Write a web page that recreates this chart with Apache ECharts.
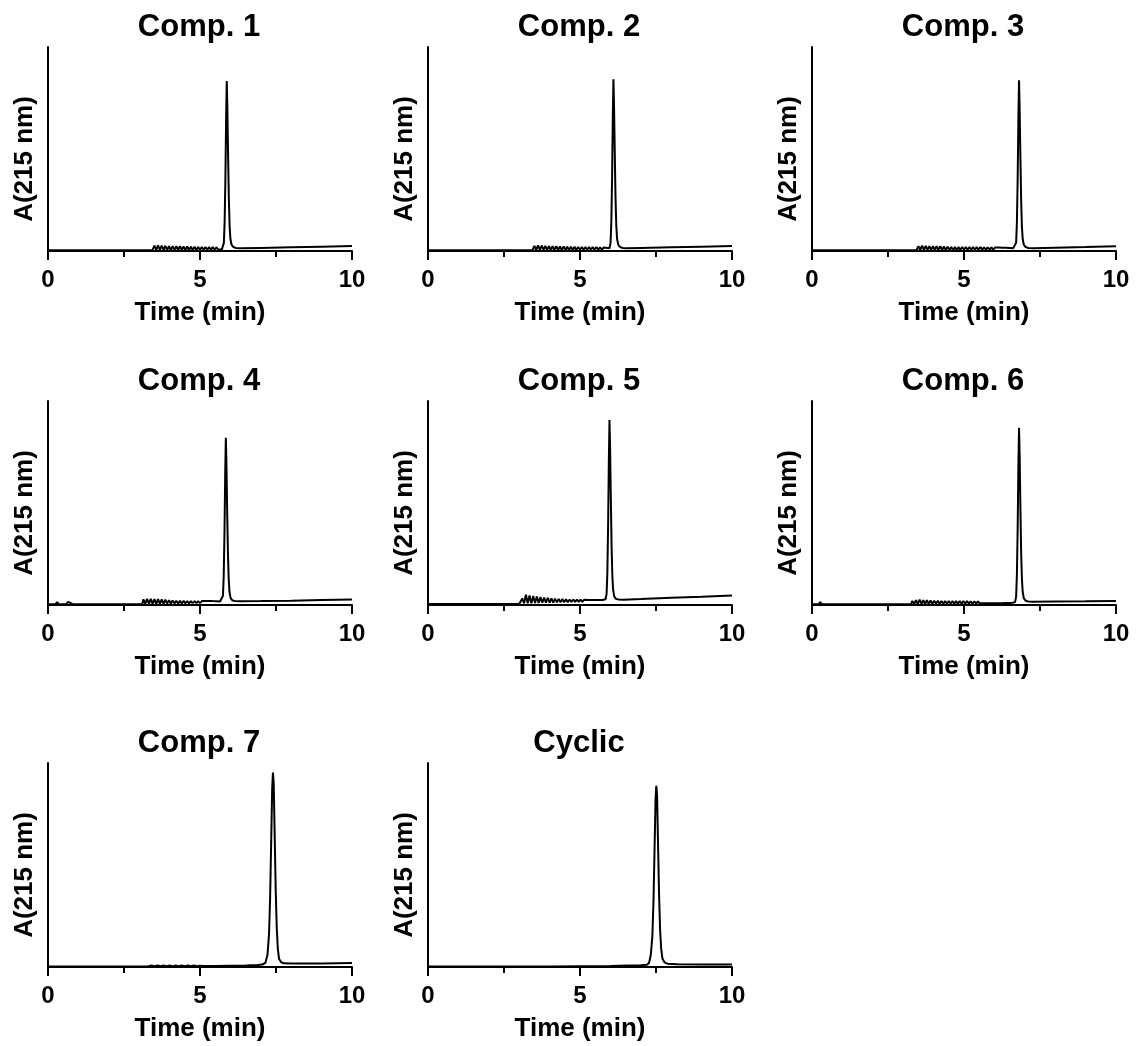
<!DOCTYPE html>
<html>
<head>
<meta charset="utf-8">
<title>HPLC chromatograms</title>
<script src="https://cdn.jsdelivr.net/npm/echarts@6/dist/echarts.min.js"></script>
<style>
  html, body { margin: 0; padding: 0; background: #fff; }
  #chart { width: 1136px; height: 1046px; }
</style>
</head>
<body>
<div id="chart"></div>
<script>
// Panel titles, in reading order
const titles = ['Comp. 1', 'Comp. 2', 'Comp. 3', 'Comp. 4', 'Comp. 5', 'Comp. 6', 'Comp. 7', 'Cyclic'];

// x-axis ticks (min)
const timeTicks = [0, 5, 10];

// Chromatogram traces: [time (min), absorbance at 215 nm (arbitrary units, 0–100)]
const comp1 = [
  [0,0.4],[1,0.4],[2,0.4],[3,0.4],[3.44,0.5],
  [3.50,2.6],[3.56,0.5],[3.62,2.8],[3.68,0.5],[3.74,2.6],[3.80,0.5],[3.86,2.5],[3.92,0.5],[3.98,2.4],[4.04,0.5],
  [4.10,2.4],[4.16,0.5],[4.22,2.3],[4.28,0.5],[4.34,2.3],[4.40,0.5],[4.46,2.2],[4.52,0.5],[4.58,2.2],[4.64,0.5],
  [4.70,2.1],[4.76,0.5],[4.82,2.1],[4.88,0.5],[4.94,2.0],[5.00,0.6],[5.06,2.0],[5.12,0.6],[5.18,2.0],[5.24,0.6],
  [5.30,1.9],[5.36,0.6],[5.42,1.9],[5.48,0.6],[5.54,1.8],[5.60,0.7],[5.66,1.6],[5.72,0.8],
  [5.75,1.2],[5.785,4],[5.81,14],[5.835,35],[5.86,66],[5.88,83.3],[5.90,70],[5.925,46],[5.95,25],[5.975,12],
  [6.00,6],[6.035,3.2],[6.09,2.0],[6.18,1.5],[6.33,1.3],[7,1.5],[8,1.8],[9,2.1],[10,2.4]
];
const comp2 = [
  [0,0.4],[1,0.4],[2,0.4],[3,0.4],[3.44,0.5],
  [3.50,2.5],[3.56,0.5],[3.62,2.7],[3.68,0.5],[3.74,2.6],[3.80,0.5],[3.86,2.5],[3.92,0.5],[3.98,2.4],[4.04,0.5],
  [4.10,2.3],[4.16,0.5],[4.22,2.3],[4.28,0.5],[4.34,2.2],[4.40,0.5],[4.46,2.2],[4.52,0.5],[4.58,2.1],[4.64,0.5],
  [4.70,2.1],[4.76,0.5],[4.82,2.1],[4.88,0.5],[4.94,2.0],[5.00,0.6],[5.06,2.0],[5.12,0.6],[5.18,2.0],[5.24,0.6],
  [5.30,2.0],[5.36,0.6],[5.42,1.9],[5.48,0.7],[5.54,1.9],[5.60,0.7],[5.66,1.8],[5.72,0.7],[5.78,1.7],[5.84,0.8],
  [5.90,1.5],[5.94,1.0],
  [5.97,1.3],[6.005,4],[6.03,14],[6.055,35],[6.08,67],[6.10,84.2],[6.12,71],[6.145,47],[6.17,25],[6.195,12],
  [6.22,6],[6.255,3.2],[6.31,2.0],[6.40,1.5],[6.55,1.3],[7,1.5],[8,1.8],[9,2.1],[10,2.4]
];
const comp3 = [
  [0,0.4],[1,0.4],[2,0.4],[3,0.4],[3.44,0.5],
  [3.50,2.4],[3.56,0.5],[3.62,2.6],[3.68,0.5],[3.74,2.5],[3.80,0.5],[3.86,2.4],[3.92,0.5],[3.98,2.4],[4.04,0.5],
  [4.10,2.3],[4.16,0.5],[4.22,2.3],[4.28,0.5],[4.34,2.2],[4.40,0.5],[4.46,2.1],[4.52,0.5],[4.58,2.0],[4.64,0.5],
  [4.70,1.9],[4.76,0.5],[4.82,1.9],[4.88,0.5],[4.94,2.0],[5.00,0.6],[5.06,2.0],[5.12,0.6],[5.18,2.0],[5.24,0.6],
  [5.30,1.9],[5.36,0.6],[5.42,1.9],[5.48,0.6],[5.54,1.9],[5.60,0.7],[5.66,1.8],[5.72,0.7],[5.78,1.8],[5.84,0.7],
  [5.90,1.8],[5.96,0.7],[6.02,1.7],[6.08,0.8],[6.14,1.7],[6.20,0.8],[6.26,1.6],[6.32,0.8],[6.38,1.6],[6.44,0.9],
  [6.50,1.5],[6.56,0.9],[6.62,1.4],
  [6.68,1.3],[6.715,4],[6.74,14],[6.765,35],[6.79,66],[6.81,83.7],[6.83,70],[6.855,46],[6.88,25],[6.905,12],
  [6.93,6],[6.965,3.2],[7.02,2.0],[7.11,1.5],[7.26,1.3],[8,1.6],[9,1.9],[10,2.3]
];
const comp4 = [
  [0,0.4],[0.25,0.4],[0.30,1.4],[0.35,0.4],[0.60,0.4],[0.66,1.5],[0.72,1.0],[0.80,0.5],[1,0.4],[2,0.4],[3,0.4],[3.10,0.5],
  [3.14,2.8],[3.20,0.6],[3.26,3.0],[3.32,0.6],[3.38,3.0],[3.44,0.6],[3.50,2.9],[3.56,0.6],[3.62,2.9],[3.68,0.6],
  [3.74,2.8],[3.80,0.6],[3.86,2.6],[3.92,0.7],[3.98,2.4],[4.04,0.7],[4.10,2.2],[4.16,0.7],[4.22,2.1],[4.28,0.7],
  [4.34,2.0],[4.40,0.8],[4.46,2.0],[4.52,0.8],[4.58,1.9],[4.64,0.8],[4.70,1.9],[4.76,0.9],[4.82,1.9],[4.88,0.9],
  [4.94,1.9],[5.00,0.9],[5.06,1.9],[5.12,1.0],[5.18,1.9],[5.24,1.0],[5.30,1.9],[5.36,1.1],[5.42,1.9],[5.48,1.2],
  [5.54,1.8],[5.60,1.3],[5.66,1.7],
  [5.72,1.8],[5.755,4.5],[5.78,14],[5.805,35],[5.83,65],[5.85,82],[5.87,69],[5.895,45],[5.92,25],[5.945,12.5],
  [5.97,6.5],[6.005,3.5],[6.06,2.3],[6.15,1.9],[6.30,1.8],[7,1.9],[8,2.1],[9,2.4],[10,2.7]
];
const comp5 = [
  [0,0.5],[1,0.5],[2,0.5],[3,0.5],[3.06,0.6],
  [3.10,3.2],[3.16,0.8],[3.22,5.0],[3.28,0.9],[3.34,4.7],[3.40,0.9],[3.46,4.4],[3.52,1.0],[3.58,4.1],[3.64,1.0],
  [3.70,3.9],[3.76,1.1],[3.82,3.7],[3.88,1.1],[3.94,3.5],[4.00,1.2],[4.06,3.3],[4.12,1.2],[4.18,3.1],[4.24,1.3],
  [4.30,3.0],[4.36,1.3],[4.42,2.9],[4.48,1.4],[4.54,2.8],[4.60,1.4],[4.66,2.7],[4.72,1.5],[4.78,2.7],[4.84,1.5],
  [4.90,2.6],[4.96,1.6],[5.02,2.6],[5.08,1.6],[5.14,2.6],[5.20,1.7],[5.26,2.5],[5.32,1.8],[5.38,2.5],[5.44,1.9],
  [5.50,2.5],[5.56,1.9],[5.62,2.5],[5.68,2.0],[5.74,2.5],[5.80,2.2],
  [5.84,2.8],[5.875,5.5],[5.90,16],[5.925,39],[5.95,72],[5.97,90.7],[5.99,77],[6.015,51],[6.04,28],[6.065,14],
  [6.09,7.5],[6.125,4.2],[6.18,3.0],[6.27,2.7],[6.42,2.6],[7,2.9],[8,3.5],[9,4.0],[10,4.6]
];
const comp6 = [
  [0,0.4],[0.22,0.4],[0.27,1.5],[0.32,0.5],[0.50,0.4],[1,0.4],[2,0.4],[3,0.4],[3.26,0.5],
  [3.30,2.0],[3.36,0.5],[3.42,2.4],[3.48,0.5],[3.54,2.6],[3.60,0.5],[3.66,2.4],[3.72,0.5],[3.78,2.3],[3.84,0.6],
  [3.90,2.2],[3.96,0.6],[4.02,2.1],[4.08,0.6],[4.14,2.1],[4.20,0.6],[4.26,2.0],[4.32,0.6],[4.38,2.0],[4.44,0.6],
  [4.50,2.0],[4.56,0.6],[4.62,1.9],[4.68,0.6],[4.74,1.9],[4.80,0.6],[4.86,1.9],[4.92,0.7],[4.98,1.9],[5.04,0.7],
  [5.10,1.9],[5.16,0.7],[5.22,1.8],[5.28,0.7],[5.34,1.8],[5.40,0.7],[5.46,1.8],[5.52,0.8],[5.58,1.7],[5.64,0.8],
  [5.70,1.7],[5.76,0.8],[5.82,1.7],[5.88,0.8],[5.94,1.6],[6.00,0.9],[6.06,1.6],[6.12,0.9],[6.18,1.6],[6.24,0.9],
  [6.30,1.5],[6.36,1.0],[6.42,1.5],[6.48,1.0],[6.54,1.4],[6.60,1.1],
  [6.68,1.4],[6.715,4.2],[6.74,15],[6.765,37],[6.79,69],[6.81,86.9],[6.83,74],[6.855,48],[6.88,26],[6.905,13],
  [6.93,6.5],[6.965,3.4],[7.02,2.2],[7.11,1.7],[7.26,1.6],[8,1.7],[9,1.8],[10,2.0]
];
const comp7 = [
  [0,0.3],[1,0.3],[2,0.3],[3,0.3],[3.3,0.4],[3.4,0.7],[3.5,0.4],[3.6,0.7],[3.7,0.4],[3.8,0.7],[3.9,0.4],[4.0,0.7],
  [4.1,0.4],[4.2,0.7],[4.3,0.4],[4.4,0.7],[4.5,0.4],[4.6,0.7],[4.7,0.4],[4.8,0.7],[4.9,0.4],[5.0,0.6],[5.1,0.5],
  [5.5,0.5],[6.0,0.6],[6.5,0.7],[6.9,1.0],[7.05,1.2],
  [7.15,2.0],[7.22,6],[7.27,16],[7.305,33],[7.34,60],[7.375,88],[7.40,95.3],[7.425,90],[7.455,66],[7.49,38],
  [7.525,19],[7.56,9],[7.60,4],[7.67,2.3],[7.77,1.8],[8,1.7],[9,1.7],[10,1.9]
];
const cyclic = [
  [0,0.3],[1,0.3],[2,0.3],[3,0.3],[4,0.3],[5,0.4],[6,0.5],[6.6,0.7],[7.0,0.8],[7.2,1.1],
  [7.27,2.0],[7.33,6],[7.38,15],[7.415,31],[7.45,56],[7.485,82],[7.51,88.8],[7.535,84],[7.565,62],[7.60,36],
  [7.635,18],[7.67,9],[7.71,4.2],[7.78,2.3],[7.87,1.6],[8.2,1.3],[9,1.2],[10,1.2]
];

const traces = [comp1, comp2, comp3, comp4, comp5, comp6, comp7, cyclic];

// Panel layout (3 x 3 grid, last cell empty)
const colLeft = [48, 428, 812];
const rowTop = [47, 401, 763];
const plotW = 304;
const plotH = 204;

const FONT = '"Liberation Sans", Arial, Helvetica, sans-serif';

const grids = [], xAxes = [], yAxes = [], series = [], titleList = [];

traces.forEach((data, i) => {
  const left = colLeft[i % 3];
  const top = rowTop[Math.floor(i / 3)];
  grids.push({ left: left, top: top, width: plotW, height: plotH, containLabel: false });

  titleList.push({
    text: titles[i],
    left: left + plotW / 2 - 1,
    top: top - 35,
    textAlign: 'center',
    padding: 0,
    textStyle: { fontFamily: FONT, fontSize: 31, fontWeight: 'bold', color: '#000' }
  });

  xAxes.push({
    gridIndex: i,
    type: 'value',
    min: timeTicks[0],
    max: timeTicks[timeTicks.length - 1],
    interval: timeTicks[1] - timeTicks[0],
    name: 'Time (min)',
    nameLocation: 'middle',
    nameGap: 49,
    nameTextStyle: { fontFamily: FONT, fontSize: 26, fontWeight: 'bold', color: '#000' },
    axisLine: { show: true, onZero: false, lineStyle: { color: '#000', width: 2 } },
    axisTick: { show: true, length: 9, lineStyle: { color: '#000', width: 2 } },
    minorTick: { show: true, splitNumber: 2, length: 6, lineStyle: { color: '#000', width: 2 } },
    axisLabel: { fontFamily: FONT, fontSize: 24, fontWeight: 'bold', color: '#000', margin: 17 },
    splitLine: { show: false },
    minorSplitLine: { show: false }
  });

  yAxes.push({
    gridIndex: i,
    type: 'value',
    min: 0,
    max: 100,
    name: 'A(215 nm)',
    nameLocation: 'middle',
    nameGap: 10,
    nameTextStyle: { fontFamily: FONT, fontSize: 26, fontWeight: 'bold', color: '#000', padding: [0, 20, 0, 0] },
    axisLine: { show: true, onZero: false, lineStyle: { color: '#000', width: 2 } },
    axisTick: { show: false },
    axisLabel: { show: false },
    splitLine: { show: false }
  });

  series.push({
    type: 'line',
    name: titles[i],
    xAxisIndex: i,
    yAxisIndex: i,
    data: data,
    symbol: 'none',
    showSymbol: false,
    lineStyle: { color: '#000', width: 2 },
    emphasis: { disabled: true }
  });
});

const chart = echarts.init(document.getElementById('chart'), null, { renderer: 'canvas' });
chart.setOption({
  animation: false,
  backgroundColor: '#fff',
  title: titleList,
  grid: grids,
  xAxis: xAxes,
  yAxis: yAxes,
  series: series
});
</script>
</body>
</html>
